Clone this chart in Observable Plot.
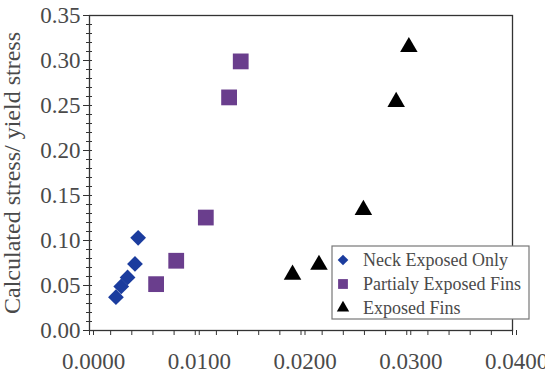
<!DOCTYPE html>
<html><head><meta charset="utf-8">
<script src="https://cdn.jsdelivr.net/npm/d3@7"></script>
<script src="https://cdn.jsdelivr.net/npm/@observablehq/plot@0.6"></script>
<style>body{margin:0;background:#fff} #chart{width:545px;height:376px}</style>
</head><body><div id="chart"></div>
<script>
// Data
const neckX = [0.0025, 0.0030, 0.0036, 0.0043, 0.0046];
const neckY = [0.037, 0.049, 0.059, 0.074, 0.103];
const partialX = [0.0063, 0.0082, 0.0110, 0.0132, 0.0143];
const partialY = [0.0515, 0.0775, 0.1255, 0.259, 0.299];
const exposedX = [0.0192, 0.0217, 0.0259, 0.0290, 0.0302];
const exposedY = [0.062, 0.073, 0.134, 0.254, 0.315];

const seriesNames = ["Neck Exposed Only", "Partialy Exposed Fins", "Exposed Fins"];
const seriesColors = ["#1b3c9e", "#6a3e8d", "#000000"];
const seriesSymbols = ["diamond2", "square", "triangle"];

const xMajor = [0, 0.01, 0.02, 0.03, 0.04];
const xMinor = d3.range(0, 21).map(i => i * 0.002);
const yMajor = [0, 0.05, 0.10, 0.15, 0.20, 0.25, 0.30, 0.35];
const yMinor = d3.range(0, 36).map(i => i * 0.01);
const yTitle = "Calculated stress/ yield stress";

const toRows = (xs, ys, s) => xs.map((x, i) => ({x, y: ys[i], s}));
const series = [
  toRows(neckX, neckY, 0),
  toRows(partialX, partialY, 1),
  toRows(exposedX, exposedY, 2)
];
const radii = [7.1, 8.9, 6.5];
const ink = "#4a4a4a";

const plot = Plot.plot({
  width: 545, height: 376,
  marginLeft: 89, marginRight: 33, marginTop: 15, marginBottom: 46,
  x: {domain: [0, 0.04]},
  y: {domain: [0, 0.35]},
  style: {fontFamily: "'Liberation Serif', 'DejaVu Serif', serif", fontSize: "23px", color: ink, background: "white"},
  marks: [
    Plot.frame({stroke: "#333", strokeWidth: 1.3}),
    Plot.axisX(xMinor, {tickSize: 5, tickFormat: () => "", label: null, stroke: "#333"}),
    Plot.axisX(xMajor, {tickSize: 5, tickPadding: 17, dx: 4, tickFormat: d3.format(".4f"), label: null, stroke: "#333"}),
    Plot.axisY(yMinor, {tickSize: 6, dx: 3, tickFormat: () => "", label: null, stroke: "#333"}),
    Plot.axisY(yMajor, {tickSize: 9, dx: 3, tickPadding: 3, tickFormat: d3.format(".2f"), label: null, stroke: "#333"}),
    Plot.text([yTitle], {text: d => d, frameAnchor: "left", textAnchor: "middle", lineAnchor: "middle", rotate: -90, dx: -77, fontSize: 24, fill: ink}),
    ...series.map((rows, k) => Plot.dot(rows, {x: "x", y: "y", symbol: seriesSymbols[k], r: radii[k], fill: seriesColors[k], stroke: "none"}))
  ]
});
document.getElementById("chart").appendChild(plot);

// Legend drawn inside the plot area (bottom right), overlapping the frame as in the reference
const svg = d3.select(plot);
const lg = svg.append("g").attr("transform", "translate(332,246)");
lg.append("rect").attr("width", 197).attr("height", 73).attr("fill", "white").attr("stroke", "#777").attr("stroke-width", 1.2);
const legendSym = {diamond2: d3.symbolDiamond2, square: d3.symbolSquare, triangle: d3.symbolTriangle};
const legendSize = [60, 80, 55];
seriesNames.forEach((name, k) => {
  const cy = 14 + k * 24;
  lg.append("path")
    .attr("d", d3.symbol(legendSym[seriesSymbols[k]], legendSize[k] * 1.2)())
    .attr("transform", `translate(11,${cy})`)
    .attr("fill", seriesColors[k]);
  lg.append("text").attr("x", 31).attr("y", cy).attr("dy", "0.35em")
    .attr("text-anchor", "start")
    .attr("font-size", 18).attr("fill", ink).text(name);
});
</script></body></html>
